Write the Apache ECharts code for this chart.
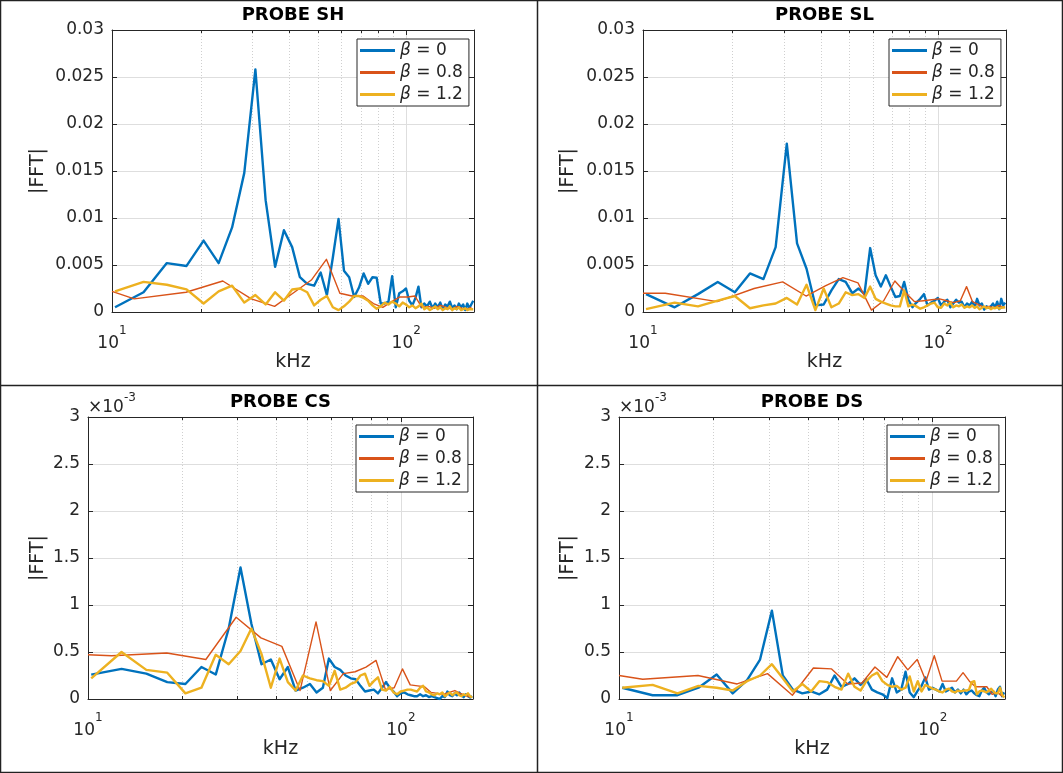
<!DOCTYPE html>
<html><head><meta charset="utf-8">
<script src="https://cdn.jsdelivr.net/npm/echarts/dist/echarts.min.js"></script>
<style>html,body{margin:0;padding:0;background:#fff}#c{width:1063px;height:773px}</style>
</head><body><div id="c"></div><script>
// FFT bins (kHz) of the beta = 0 and beta = 1.2 records (2.56 kHz resolution)
const freqFine = [10.24, 12.80, 15.36, 17.92, 20.48, 23.04, 25.60, 28.16, 30.72, 33.28,
  35.84, 38.40, 40.96, 43.52, 46.08, 48.64, 51.20, 53.76, 56.32, 58.88,
  61.44, 64.00, 66.56, 69.12, 71.68, 74.24, 76.80, 79.36, 81.92, 84.48,
  87.04, 89.60, 92.16, 94.72, 97.28, 99.84, 102.40, 104.96, 107.52, 110.08,
  112.64, 115.20, 117.76, 120.32, 122.88, 125.44, 128.00, 130.56, 133.12, 135.68,
  138.24, 140.80, 143.36, 145.92, 148.48, 151.04, 153.60, 156.16, 158.72, 161.28,
  163.84, 166.40, 168.96];
// FFT bins (kHz) of the beta = 0.8 record (coarser resolution)
const freqCoarse = [10, 11.90, 17.85, 23.80, 29.75, 35.70, 41.65, 47.60, 53.55, 59.50,
  65.45, 71.40, 77.35, 83.30, 89.25, 95.20, 101.15, 107.10, 113.05, 119.00,
  124.95, 130.90, 136.85, 142.80, 148.75, 154.70, 160.65, 166.60];

const seriesNames = ['β = 0', 'β = 0.8', 'β = 1.2'];
const panelTitles = ['PROBE SH', 'PROBE SL', 'PROBE CS', 'PROBE DS'];
const xMajorTicks = [10, 100];
const minorGridKHz = [20, 30, 40, 50, 60, 70, 80, 90];
const yTicksTop = [0, 5, 10, 15, 20, 25, 30];        // x 1e-3
const yTicksBottom = [0, 0.5, 1, 1.5, 2, 2.5, 3];    // x 1e-3

// |FFT| values, in units of 1e-3
const shBeta0 = [0.5, 2.1, 5.2, 4.9, 7.6, 5.2, 9.0, 14.8, 25.8, 11.9,
  4.8, 8.7, 6.9, 3.7, 3.0, 2.8, 4.2, 1.8, 5.8, 9.9,
  4.4, 3.7, 1.6, 2.6, 4.1, 3.0, 3.7, 3.65, 0.9, 0.9,
  1.1, 3.8, 0.5, 2.0, 2.2, 2.5, 1.2, 0.7, 1.5, 2.7,
  0.5, 0.9, 0.6, 1.1, 0.4, 0.9, 0.5, 1.0, 0.3, 0.8,
  0.6, 1.1, 0.4, 0.7, 0.3, 0.9, 0.5, 0.8, 0.2, 0.9,
  0.4, 0.6, 1.2];
const shBeta08 = [2.2, 1.4, 2.1, 3.3, 1.4, 0.6, 2.1, 3.4, 5.6, 2.0,
  1.7, 1.7, 0.9, 0.5, 1.1, 1.6, 1.6, 1.7, 0.5, 0.6,
  0.4, 0.7, 0.5, 0.3, 0.6, 0.4, 0.3, 0.5];
const shBeta12 = [2.2, 3.2, 2.9, 2.4, 0.9, 2.2, 2.8, 1.0, 1.8, 0.8,
  2.1, 1.2, 2.4, 2.5, 2.1, 0.7, 1.3, 1.7, 0.5, 0.2,
  0.6, 1.1, 1.7, 1.7, 1.5, 1.2, 0.7, 0.35, 0.6, 1.0,
  0.8, 1.1, 0.9, 0.6, 1.0, 0.8, 0.5, 0.7, 0.4, 0.6,
  0.9, 0.3, 0.5, 0.2, 0.4, 0.6, 0.3, 0.5, 0.2, 0.4,
  0.3, 0.6, 0.2, 0.4, 0.3, 0.5, 0.2, 0.3, 0.4, 0.2,
  0.3, 0.2, 0.3];

const slBeta0 = [1.9, 0.5, 1.9, 3.2, 2.1, 4.1, 3.5, 6.9, 17.9, 7.3,
  4.6, 0.7, 0.8, 2.3, 3.5, 3.2, 2.0, 2.5, 1.9, 6.8,
  3.9, 2.7, 3.9, 2.7, 1.6, 1.7, 3.2, 1.3, 0.5, 1.0,
  1.4, 1.9, 0.7, 1.0, 1.2, 1.5, 0.7, 1.1, 1.3, 0.5,
  0.9, 1.3, 1.0, 1.1, 0.5, 0.9, 0.7, 1.1, 0.5, 1.4,
  0.7, 0.9, 0.25, 0.6, 0.45, 0.6, 0.9, 0.5, 1.1, 0.3,
  1.4, 0.7, 1.0];
const slBeta08 = [2.0, 2.0, 1.1, 2.5, 3.2, 1.7, 2.8, 3.65, 3.1, 0.2,
  1.2, 3.3, 2.1, 1.1, 1.2, 1.3, 1.4, 1.2, 1.0, 1.2,
  2.7, 1.1, 0.8, 0.5, 0.6, 0.45, 0.7, 0.5];
const slBeta12 = [0.3, 1.0, 0.6, 1.2, 1.7, 0.4, 0.7, 0.9, 1.5, 0.8,
  2.9, 0.2, 2.5, 0.5, 0.9, 2.1, 1.8, 1.9, 1.5, 2.7,
  1.4, 1.1, 0.9, 0.7, 0.6, 0.6, 2.3, 0.6, 0.8, 0.6,
  0.35, 0.5, 0.7, 0.9, 1.0, 0.5, 0.45, 0.9, 0.7, 1.0,
  0.5, 0.7, 0.6, 0.8, 0.45, 0.6, 0.5, 0.7, 0.45, 0.6,
  0.3, 0.45, 0.6, 0.4, 0.5, 0.3, 0.45, 0.4, 0.5, 0.35,
  0.45, 0.3, 0.5];

const csBeta0 = [0.26, 0.32, 0.27, 0.18, 0.16, 0.34, 0.26, 0.75, 1.40, 0.80,
  0.37, 0.42, 0.21, 0.34, 0.09, 0.12, 0.16, 0.07, 0.12, 0.43,
  0.34, 0.31, 0.25, 0.22, 0.21, 0.14, 0.08, 0.09, 0.10, 0.06,
  0.12, 0.18, 0.12, 0.08, 0.03, 0.06, 0.07, 0.05, 0.04, 0.03,
  0.03, 0.05, 0.03, 0.04, 0.02, 0.03, 0.02, 0.01, 0.0, 0.03,
  0.02, 0.08, 0.04, 0.03, 0.06, 0.04, 0.07, 0.04, 0.02, 0.05,
  0.03, 0.015, 0.03];
const csBeta08 = [0.47, 0.46, 0.49, 0.42, 0.87, 0.65, 0.56, 0.09, 0.82, 0.09,
  0.27, 0.29, 0.34, 0.41, 0.10, 0.12, 0.32, 0.15, 0.14, 0.13,
  0.07, 0.06, 0.05, 0.07, 0.09, 0.06, 0.04, 0.02];
const csBeta12 = [0.22, 0.50, 0.31, 0.28, 0.06, 0.12, 0.47, 0.37, 0.51, 0.75,
  0.48, 0.12, 0.43, 0.18, 0.09, 0.25, 0.22, 0.20, 0.19, 0.14,
  0.30, 0.10, 0.12, 0.16, 0.18, 0.25, 0.27, 0.14, 0.19, 0.23,
  0.10, 0.09, 0.13, 0.07, 0.05, 0.08, 0.09, 0.10, 0.10, 0.09,
  0.08, 0.12, 0.14, 0.08, 0.07, 0.05, 0.04, 0.06, 0.05, 0.07,
  0.03, 0.05, 0.07, 0.04, 0.06, 0.07, 0.04, 0.03, 0.05, 0.04,
  0.06, 0.03, 0.015];

const dsBeta0 = [0.12, 0.04, 0.04, 0.12, 0.26, 0.06, 0.20, 0.42, 0.94, 0.25,
  0.10, 0.06, 0.08, 0.05, 0.10, 0.25, 0.13, 0.16, 0.22, 0.15,
  0.21, 0.10, 0.07, 0.05, 0.01, 0.22, 0.07, 0.10, 0.29, 0.07,
  0.02, 0.09, 0.14, 0.23, 0.10, 0.12, 0.10, 0.08, 0.16, 0.08,
  0.10, 0.12, 0.07, 0.10, 0.06, 0.10, 0.05, 0.08, 0.09, 0.06,
  0.04, 0.03, 0.09, 0.12, 0.07, 0.05, 0.07, 0.08, 0.03, 0.10,
  0.13, 0.03, 0.07];
const dsBeta08 = [0.25, 0.21, 0.25, 0.16, 0.27, 0.04, 0.33, 0.32, 0.16, 0.17,
  0.34, 0.23, 0.45, 0.31, 0.42, 0.19, 0.46, 0.19, 0.19, 0.19,
  0.28, 0.19, 0.13, 0.13, 0.13, 0.05, 0.07, 0.03];
const dsBeta12 = [0.12, 0.15, 0.06, 0.14, 0.12, 0.09, 0.19, 0.25, 0.37, 0.22,
  0.08, 0.16, 0.08, 0.19, 0.18, 0.13, 0.10, 0.27, 0.13, 0.09,
  0.19, 0.25, 0.28, 0.19, 0.15, 0.13, 0.14, 0.10, 0.12, 0.24,
  0.08, 0.19, 0.08, 0.15, 0.13, 0.11, 0.10, 0.08, 0.07, 0.10,
  0.11, 0.08, 0.07, 0.09, 0.08, 0.09, 0.09, 0.10, 0.18, 0.19,
  0.05, 0.08, 0.09, 0.08, 0.07, 0.09, 0.11, 0.08, 0.06, 0.06,
  0.12, 0.05, 0.015];

const colors = ['#0072BD', '#D95319', '#EDB120'];
const lineWidths = [2.4, 1.4, 2.4];
const AX = '#262626';
const FONT = 'DejaVu Sans';

const panelData = [
  [shBeta0, shBeta08, shBeta12],
  [slBeta0, slBeta08, slBeta12],
  [csBeta0, csBeta08, csBeta12],
  [dsBeta0, dsBeta08, dsBeta12]
];
// layout of the four sub-figures
const layout = [
  {left: 112, top: 30, width: 362, height: 282, yGap: 64, legL: 357, legT: 39, small: false},
  {left: 643, top: 30, width: 363, height: 282, yGap: 65, legL: 889, legT: 39, small: false},
  {left: 88, top: 417, width: 385, height: 282, yGap: 40, legL: 356, legT: 425, small: true},
  {left: 619, top: 417, width: 386, height: 282, yGap: 41, legL: 887, legT: 425, small: true}
];

const grid = [], xAxis = [], yAxis = [], series = [], legend = [], title = [];
const xLabelRich = {
  b: {fontSize: 17, color: AX, fontFamily: FONT, lineHeight: 27, verticalAlign: 'bottom'},
  s: {fontSize: 12, color: AX, fontFamily: FONT, lineHeight: 12, verticalAlign: 'top'}
};

layout.forEach((L, i) => {
  grid.push({left: L.left, top: L.top, width: L.width, height: L.height, containLabel: false});
  title.push({
    text: panelTitles[i], left: L.left + L.width / 2, top: L.top - 24, textAlign: 'center', padding: 0,
    textStyle: {fontFamily: FONT, fontSize: 18, fontWeight: 'bold', color: '#000'}
  });
  const yTicks = L.small ? yTicksBottom : yTicksTop;
  const yMax = yTicks[yTicks.length - 1];
  const yStep = yTicks[1] - yTicks[0];
  // bottom x axis
  const xb = xAxis.length;
  xAxis.push({
    type: 'log', logBase: 10, gridIndex: i, min: xMajorTicks[0], max: 170, position: 'bottom',
    axisLine: {show: true, onZero: false, lineStyle: {color: AX, width: 1}},
    axisTick: {show: true, inside: true, length: 5, lineStyle: {color: AX}},
    axisLabel: {
      margin: 13, showMaxLabel: false, showMinLabel: true,
      formatter: v => {
        const e = Math.round(Math.log10(v));
        return (xMajorTicks.some(t => Math.abs(t - v) < 1e-6 * t)) ? '{b|10}{s|' + e + '}' : '';
      },
      rich: xLabelRich
    },
    splitLine: {show: true, lineStyle: {color: '#dedede', width: 1}},
    name: 'kHz', nameLocation: 'middle', nameGap: 40,
    nameTextStyle: {fontFamily: FONT, fontSize: 19, color: AX}
  });
  // top x axis (box + ticks)
  xAxis.push({
    type: 'log', logBase: 10, gridIndex: i, min: xMajorTicks[0], max: 170, position: 'top',
    axisLine: {show: true, onZero: false, lineStyle: {color: AX, width: 1}},
    axisTick: {show: true, inside: true, length: 5, lineStyle: {color: AX}},
    axisLabel: {show: false}, splitLine: {show: false}
  });
  const yl = yAxis.length;
  yAxis.push({
    type: 'value', gridIndex: i, min: 0, max: yMax, interval: yStep, position: 'left',
    axisLine: {show: true, onZero: false, lineStyle: {color: AX, width: 1}},
    axisTick: {show: true, inside: true, length: 5, lineStyle: {color: AX}},
    axisLabel: {
      margin: 8, fontFamily: FONT, fontSize: 17, color: AX,
      formatter: v => L.small ? String(parseFloat(v.toFixed(2))) : String(parseFloat((v / 1000).toFixed(4)))
    },
    splitLine: {show: true, lineStyle: {color: '#dedede', width: 1}},
    name: '|FFT|', nameLocation: 'middle', nameGap: L.yGap,
    nameTextStyle: {fontFamily: FONT, fontSize: 19, color: AX}
  });
  yAxis.push({
    type: 'value', gridIndex: i, min: 0, max: yMax, interval: yStep, position: 'right',
    axisLine: {show: true, onZero: false, lineStyle: {color: AX, width: 1}},
    axisTick: {show: true, inside: true, length: 5, lineStyle: {color: AX}},
    axisLabel: {show: false}, splitLine: {show: false}
  });
  if (L.small) {
    yAxis.push({
      type: 'value', gridIndex: i, min: 0, max: yMax, position: 'left',
      axisLine: {show: false}, axisTick: {show: false}, axisLabel: {show: false}, splitLine: {show: false},
      name: '{a|×10}{b|-3}', nameLocation: 'end', nameGap: 1,
      nameTextStyle: {
        align: 'left',
        rich: {
          a: {fontSize: 17, color: AX, fontFamily: FONT, lineHeight: 24, verticalAlign: 'bottom'},
          b: {fontSize: 12, color: AX, fontFamily: FONT, lineHeight: 12, verticalAlign: 'top'}
        }
      }
    });
  }
  // dotted minor grid + minor ticks, placed with the log axis
  series.push({
    type: 'custom', xAxisIndex: xb, yAxisIndex: yl, silent: true, z: 1, animation: false,
    data: minorGridKHz.map(v => [v, 0]),
    renderItem: (params, api) => {
      const cs = params.coordSys;
      const x = Math.round(api.coord([api.value(0), 0])[0]) + 0.5;
      const y0 = cs.y, y1 = cs.y + cs.height;
      return {type: 'group', children: [
        {type: 'line', shape: {x1: x, y1: y0, x2: x, y2: y1}, style: {stroke: '#cfcfcf', lineWidth: 1, lineDash: [1, 2]}},
        {type: 'line', shape: {x1: x, y1: y1, x2: x, y2: y1 - 3}, style: {stroke: AX, lineWidth: 1}},
        {type: 'line', shape: {x1: x, y1: y0, x2: x, y2: y0 + 3}, style: {stroke: AX, lineWidth: 1}}
      ]};
    }
  });
  panelData[i].forEach((vals, s) => {
    const fr = s === 1 ? freqCoarse : freqFine;
    series.push({
      type: 'line', name: seriesNames[s], xAxisIndex: xb, yAxisIndex: yl,
      data: vals.map((v, k) => [fr[k], v]),
      showSymbol: false, symbol: 'none', clip: true, animation: false, z: 2 + s,
      lineStyle: {color: colors[s], width: lineWidths[s], join: 'round'},
      itemStyle: {color: colors[s]}
    });
  });
  legend.push({
    data: seriesNames, left: L.legL, top: L.legT, orient: 'vertical', selectedMode: false,
    icon: 'rect', itemWidth: 35, itemHeight: 3, itemGap: 5, padding: [3, 6, 3, 3],
    backgroundColor: '#fff', borderColor: AX, borderWidth: 1, borderRadius: 0, z: 10,
    formatter: n => n.replace('β', '{i|β}'),
    textStyle: {fontFamily: FONT, fontSize: 17, color: AX, lineHeight: 17,
      rich: {i: {fontFamily: FONT, fontStyle: 'italic', fontSize: 17, color: AX, lineHeight: 17}}}
  });
});

const chart = echarts.init(document.getElementById('c'), null, {renderer: 'canvas'});
chart.setOption({
  backgroundColor: '#fff', animation: false,
  textStyle: {fontFamily: FONT},
  title, grid, xAxis, yAxis, series, legend,
  graphic: [
    {type: 'rect', silent: true, shape: {x: 0.5, y: 0.5, width: 1062, height: 772}, style: {fill: null, stroke: '#222', lineWidth: 1.5}},
    {type: 'line', silent: true, shape: {x1: 537.5, y1: 0, x2: 537.5, y2: 773}, style: {stroke: '#222', lineWidth: 1.5}},
    {type: 'line', silent: true, shape: {x1: 0, y1: 385.5, x2: 1063, y2: 385.5}, style: {stroke: '#222', lineWidth: 1.5}}
  ]
});
</script></body></html>
